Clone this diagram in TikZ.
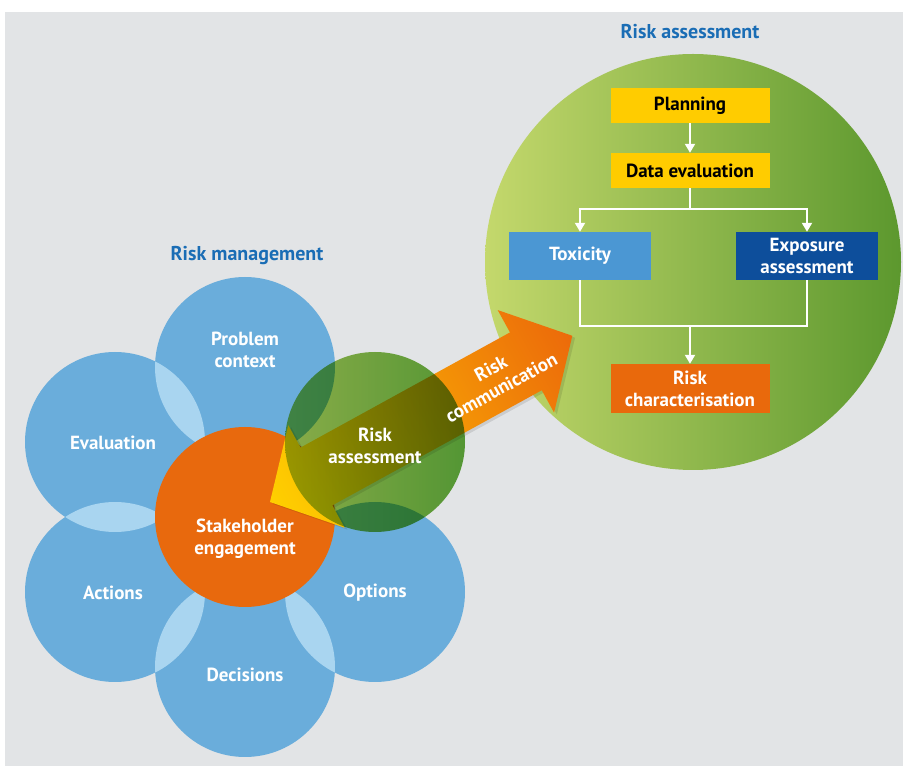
\documentclass[tikz,border=0pt]{standalone}
\usepackage{fontspec}
\setmainfont{PT Sans}
\usetikzlibrary{arrows.meta}
\definecolor{bg}{HTML}{E2E4E6}
\definecolor{rmblue}{HTML}{6AADDB}
\definecolor{lens}{HTML}{A9D5F0}
\definecolor{stake}{HTML}{E8690D}
\definecolor{ayel}{HTML}{FFD000}
\definecolor{amid}{HTML}{F39400}
\definecolor{aor}{HTML}{EC6A0A}
\definecolor{gL}{HTML}{9BC151}
\definecolor{gR}{HTML}{5FA83A}
\definecolor{bigL}{HTML}{C4D86C}
\definecolor{bigM}{HTML}{9EBF50}
\definecolor{bigR}{HTML}{5C982E}
\definecolor{ttl}{HTML}{1A6DB5}
\definecolor{ybox}{HTML}{FFCC00}
\definecolor{toxc}{HTML}{4B97D3}
\definecolor{expc}{HTML}{0D4E9B}
\definecolor{charc}{HTML}{E9690C}
\begin{document}
\begin{tikzpicture}[x=1pt,y=1pt,
  bcirc/.style={circle,fill=rmblue,minimum size=180pt,inner sep=0pt},
  ctext/.style={text=white,font=\fontsize{19}{22}\selectfont\bfseries,align=center,inner sep=0pt},
  ttext/.style={text=ttl,font=\fontsize{20}{22}\selectfont\bfseries,inner sep=0pt},
  fbox/.style={minimum width=159pt,minimum height=35pt,inner sep=0pt,align=center,font=\fontsize{19}{22}\selectfont\bfseries},
  wline/.style={draw=white,line width=2pt},
  wtip/.style={-{Triangle[width=10pt,length=9pt]}}]
\useasboundingbox (0,0) rectangle (903,766);
\fill[bg] (5,0) rectangle (903,754);

% big risk assessment circle
\node[circle,minimum size=416pt,inner sep=0pt,left color=bigL,middle color=bigM,right color=bigR] (big) at (693,504) {};
\node[ttext] (ttlra) at (690,734) {Risk assessment};

% flow boxes
\node[fbox,fill=ybox,text=black] (plan) at (690,660.5) {Planning};
\node[fbox,fill=ybox,text=black] (data) at (690,595.5) {Data evaluation};
\node[fbox,fill=toxc,text=white,minimum width=142pt,minimum height=48pt] (tox) at (580,510) {Toxicity};
\node[fbox,fill=expc,text=white,minimum width=142pt,minimum height=48pt] (expo) at (807,510) {Exposure\\assessment};
\node[fbox,fill=charc,text=white,minimum height=49pt] (char) at (690,377.5) {Risk\\characterisation};
\coordinate (split) at (690,557);
\coordinate (join) at (690,440);
\draw[wline,wtip] (plan) -- (data);
\draw[wline] (data) -- (split);
\draw[wline,wtip] (split) -| (tox);
\draw[wline,wtip] (split) -| (expo);
\draw[wline] (tox.south) |- (join) -| (expo.south);
\draw[wline,wtip] (join) -- (char);

% risk management ring
\node[ttext] (ttlrm) at (247,510) {Risk management};
\node[bcirc] (pc) at (245,399) {};
\node[bcirc] (ev) at (115,324) {};
\node[bcirc] (ac) at (115,174) {};
\node[bcirc] (de) at (245,99) {};
\node[bcirc] (op) at (375,174) {};
\begin{scope}\clip (pc.center) circle (90); \fill[lens] (ev.center) circle (90);\end{scope}
\begin{scope}\clip (ev.center) circle (90); \fill[lens] (ac.center) circle (90);\end{scope}
\begin{scope}\clip (ac.center) circle (90); \fill[lens] (de.center) circle (90);\end{scope}
\begin{scope}\clip (de.center) circle (90); \fill[lens] (op.center) circle (90);\end{scope}
\node[circle,fill=stake,minimum size=180pt,inner sep=0pt] (se) at (245,249) {};

% double arrow
\begin{scope}[transform canvas={shift={(270,264)},rotate=28.8}]
\fill[black,opacity=0.10] (1.5,-3) -- (54.5,55.5) -- (54.5,30) -- (293.5,30) -- (293.5,55.5) -- (346.5,-3) -- (293.5,-61.5) -- (293.5,-36) -- (54.5,-36) -- (54.5,-61.5) -- cycle;
\shade[left color=ayel,middle color=amid,right color=aor]
  (0,0) -- (53,58.5) -- (53,33) -- (292,33) -- (292,58.5) -- (345,0)
  -- (292,-58.5) -- (292,-33) -- (53,-33) -- (53,-58.5) -- cycle;
\end{scope}

% translucent risk assessment circle
\begin{scope}[blend mode=multiply]
\node[circle,minimum size=180pt,inner sep=0pt,left color=gL,right color=gR] (ra) at (375,324) {};
\end{scope}

% texts
\node[ctext] (tpc) at (245,416) {Problem\\context};
\node[ctext] (tev) at (113,323) {Evaluation};
\node[ctext] (tac) at (113,173) {Actions};
\node[ctext] (tde) at (245,91) {Decisions};
\node[ctext] (top) at (375,173) {Options};
\node[ctext] (tse) at (245,227) {Stakeholder\\engagement};
\node[ctext] (tra) at (375,320) {Risk\\assessment};
\node[ctext,rotate=28.8] (trc) at (496,388) {Risk\\communication};
\end{tikzpicture}
\end{document}
